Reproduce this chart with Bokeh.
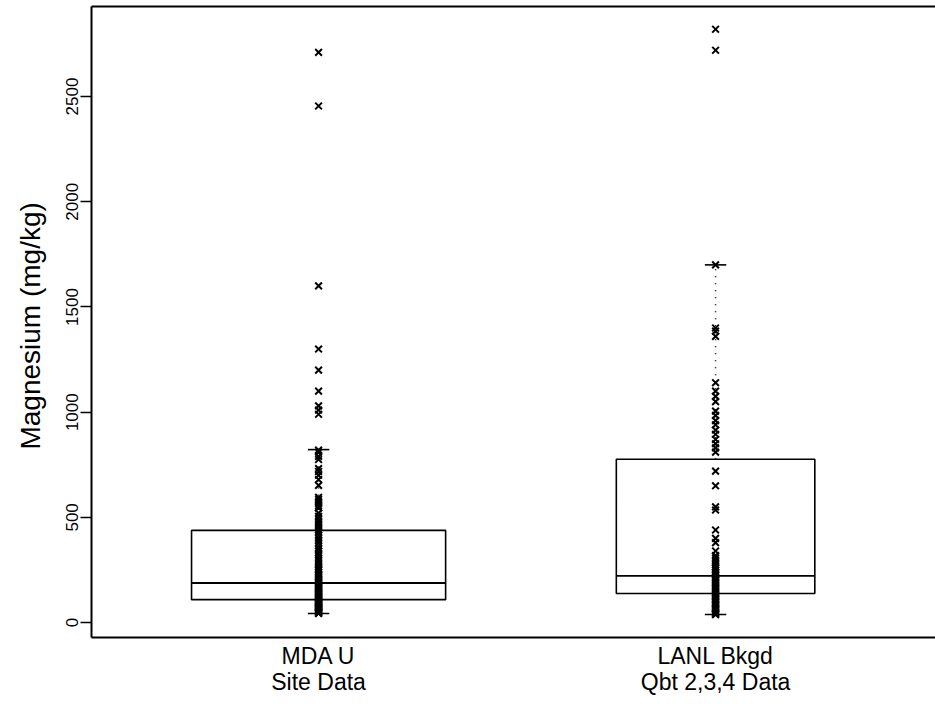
from bokeh.plotting import figure
from bokeh.models import Range1d, FixedTicker, LinearAxis
from bokeh.embed import file_html
from bokeh.resources import INLINE

# ---- data -------------------------------------------------------------
group_labels = ["MDA U\nSite Data", "LANL Bkgd\nQbt 2,3,4 Data"]
positions = [1, 2]
box_widths = [0.64, 0.50]
q1 = [109, 138]
median = [188, 222]
q3 = [438, 776]
whisker_lo = [43, 38]
whisker_hi = [822, 1700]

site_values = [2710, 2455, 1600, 1300, 1200, 1100, 1030, 1010, 990,
               820, 810, 790, 775, 732, 718, 700, 680, 652,
               595, 585, 575, 565, 555, 545,
               520, 505, 490, 480, 470, 460, 450, 440,
               430, 415, 400, 390, 380, 365, 350, 340, 330, 320, 305, 295,
               285, 275, 265, 255, 248, 240, 232, 225, 218, 210, 204, 198,
               192, 186, 180, 175, 170, 165, 160, 155, 150, 145, 140, 135,
               130, 126, 122, 118, 114, 110, 106, 102, 98, 94, 90, 86, 82,
               78, 75, 72, 69, 66, 63, 60, 57, 54, 51, 48, 45, 43]

bkgd_values = [2820, 2720, 1700, 1400, 1385, 1360, 1140, 1100, 1075, 1050,
               1005, 985, 960, 940, 915, 895, 870, 850, 830, 810,
               720, 650, 550, 535, 440, 400, 380, 340,
               318, 305, 295, 285, 275, 265, 258, 250, 240, 232, 225, 218,
               210, 202, 195, 188, 180, 172, 165, 158, 150, 143, 136, 129,
               122, 115, 108, 101, 95, 88, 82, 76, 70, 64, 58, 52, 46, 41, 38]

y_ticks = [0, 500, 1000, 1500, 2000, 2500]
y_title = "Magnesium  (mg/kg)"

FONT = "Liberation Sans"

# ---- figure -----------------------------------------------------------
p = figure(width=935, height=704, output_backend="svg", toolbar_location=None,
           x_range=Range1d(0.428, 2.554), y_range=Range1d(-71, 2928),
           x_axis_location=None, y_axis_location=None,
           min_border_left=91, min_border_right=0, min_border_top=6,
           min_border_bottom=67)
p.outline_line_color = None
p.grid.visible = False
p.background_fill_color = "white"
p.border_fill_color = "white"

# left axis (frame left edge)
yax = LinearAxis(ticker=FixedTicker(ticks=y_ticks))
yax.axis_line_color = "black"
yax.axis_line_width = 2
yax.major_tick_line_color = "black"
yax.major_tick_line_width = 1.5
yax.major_tick_out = 11
yax.major_tick_in = 0
yax.minor_tick_line_color = None
yax.major_label_orientation = "vertical"
yax.major_label_text_font = FONT
yax.major_label_text_font_size = "17px"
yax.major_label_text_color = "black"
yax.major_label_standoff = 2
yax.axis_label = y_title
yax.axis_label_text_font = FONT
yax.axis_label_text_font_size = "28px"
yax.axis_label_text_font_style = "normal"
yax.axis_label_text_color = "black"
yax.axis_label_standoff = 18
p.add_layout(yax, "left")

# bottom axis (frame bottom edge + group labels)
xax = LinearAxis(ticker=FixedTicker(ticks=positions))
xax.major_label_overrides = {pos: lab for pos, lab in zip(positions, group_labels)}
xax.axis_line_color = "black"
xax.axis_line_width = 2
xax.major_tick_line_color = None
xax.minor_tick_line_color = None
xax.major_tick_out = 0
xax.major_tick_in = 0
xax.major_label_standoff = 5
xax.major_label_text_font = FONT
xax.major_label_text_font_size = "23px"
xax.major_label_text_color = "black"
xax.major_label_text_line_height = 1.0
p.add_layout(xax, "below")

# top axis (frame top edge only)
tax = LinearAxis(ticker=FixedTicker(ticks=[]))
tax.axis_line_color = "black"
tax.axis_line_width = 2
tax.major_tick_line_color = None
tax.minor_tick_line_color = None
tax.major_tick_out = 0
tax.major_tick_in = 0
tax.major_label_standoff = 0
tax.major_label_text_font_size = "0px"
p.add_layout(tax, "above")

# ---- boxes ------------------------------------------------------------
lefts = [c - w / 2 for c, w in zip(positions, box_widths)]
rights = [c + w / 2 for c, w in zip(positions, box_widths)]
p.quad(left=lefts, right=rights, bottom=q1, top=q3,
       fill_color=None, line_color="black", line_width=1.6)
p.segment(x0=lefts, x1=rights, y0=median, y1=median,
          line_color="black", line_width=1.8)

# whiskers (dotted) and caps
p.segment(x0=positions, x1=positions, y0=q3, y1=whisker_hi,
          line_color="black", line_width=1.5, line_dash="1 6")
p.segment(x0=positions, x1=positions, y0=q1, y1=whisker_lo,
          line_color="black", line_width=1.5, line_dash="1 6")
cap_half = 0.027
p.segment(x0=[c - cap_half for c in positions], x1=[c + cap_half for c in positions],
          y0=whisker_hi, y1=whisker_hi, line_color="black", line_width=1.6)
p.segment(x0=[c - cap_half for c in positions], x1=[c + cap_half for c in positions],
          y0=whisker_lo, y1=whisker_lo, line_color="black", line_width=1.6)

# data points
p.scatter(x=[positions[0]] * len(site_values), y=site_values, marker="x",
          size=9.5, line_width=2, line_color="black")
p.scatter(x=[positions[1]] * len(bkgd_values), y=bkgd_values, marker="x",
          size=9.5, line_width=2, line_color="black")

open("out.html", "w").write(file_html(p, INLINE))
